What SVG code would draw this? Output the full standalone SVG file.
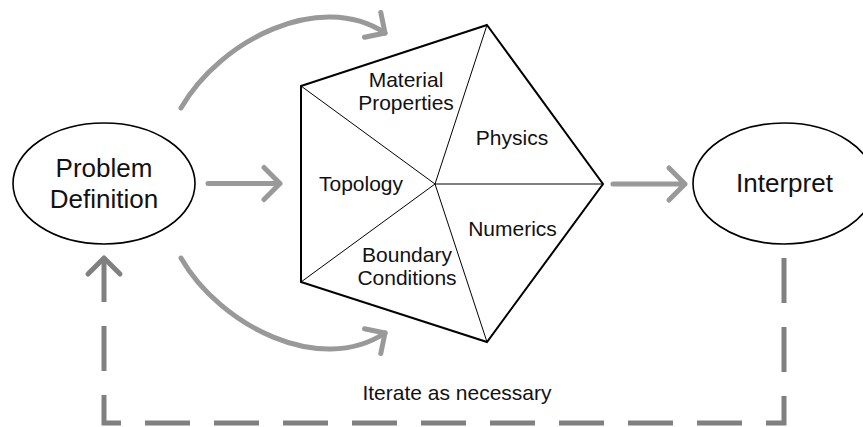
<svg xmlns="http://www.w3.org/2000/svg" width="863" height="427" viewBox="0 0 863 427">
<style>
.bg{fill:#fff}
.ell{fill:#fff;stroke:#000;stroke-width:1.6}
.big{font-family:"Liberation Sans",Arial,sans-serif;font-size:26px;fill:#111;text-anchor:middle}
.lbl{font-family:"Liberation Sans",Arial,sans-serif;font-size:21px;fill:#111;text-anchor:middle}
.outer{fill:none;stroke:#000;stroke-width:2;stroke-linejoin:miter}
.inner{stroke:#000;stroke-width:1}
.arr{fill:none;stroke:#999;stroke-width:5;stroke-linecap:round;stroke-linejoin:round}
.dash{fill:none;stroke:#808080;stroke-width:5;stroke-dasharray:45 24;stroke-linejoin:miter}
.darr{fill:none;stroke:#808080;stroke-width:5;stroke-linecap:round;stroke-linejoin:round}
</style>
<rect class="bg" x="0" y="0" width="863" height="427"/>
<g id="problem-definition">
<ellipse class="ell" cx="104" cy="183.5" rx="91" ry="60.5"/>
<text class="big" x="104" y="177">Problem</text>
<text class="big" x="104" y="208">Definition</text>
</g>
<g id="interpret">
<ellipse class="ell" cx="784" cy="183.5" rx="91" ry="60.5"/>
<text class="big" x="784.5" y="192">Interpret</text>
</g>
<g id="pentagon">
<polygon class="outer" points="487,25 603,184 487,342 301,282 301,86"/>
<line class="inner" x1="435" y1="184" x2="487" y2="25"/>
<line class="inner" x1="435" y1="184" x2="603" y2="184"/>
<line class="inner" x1="435" y1="184" x2="487" y2="342"/>
<line class="inner" x1="435" y1="184" x2="301" y2="282"/>
<line class="inner" x1="435" y1="184" x2="301" y2="86"/>
</g>
<g id="material-properties">
<text class="lbl" x="406" y="87">Material</text>
<text class="lbl" x="406" y="110">Properties</text>
</g>
<g id="physics"><text class="lbl" x="512" y="145">Physics</text></g>
<g id="topology"><text class="lbl" x="361" y="191">Topology</text></g>
<g id="numerics"><text class="lbl" x="512.5" y="236">Numerics</text></g>
<g id="boundary-conditions">
<text class="lbl" x="407" y="262">Boundary</text>
<text class="lbl" x="407" y="285">Conditions</text>
</g>
<g id="connectors">
<path class="arr" d="M181,108 C220,40 320,-10 385,33"/>
<path class="arr" d="M380.8,12.5 L385,33 L364.5,37.2"/>
<path class="arr" d="M181,258 C220,326 320,376 385,333"/>
<path class="arr" d="M380.8,353.5 L385,333 L364.5,328.8"/>
<path class="arr" d="M208,183.5 L280,183.5 M264,167.5 L280,183.5 L264,199.5"/>
<path class="arr" d="M613,184 L685,184 M669,168 L685,184 L669,200"/>
<path class="dash" d="M784,258 L784,423 L104,423 L104,258"/>
<path class="darr" d="M88,274 L104,258 L120,274"/>
<text class="lbl" x="457" y="400">Iterate as necessary</text>
</g>
</svg>
